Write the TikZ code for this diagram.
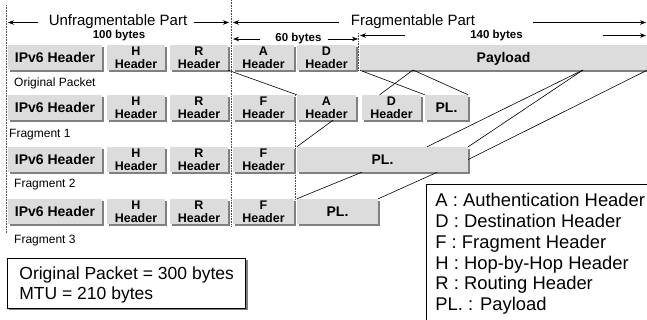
\documentclass[tikz,border=0pt]{standalone}
\usepackage{fontspec}
\setmainfont{Liberation Sans}
\usetikzlibrary{shadows,arrows.meta,calc}
\definecolor{boxcolor}{RGB}{220,220,220}
\definecolor{shadowcolor}{RGB}{128,128,128}

\begin{document}
\begin{tikzpicture}[
        x=1pt, y=-1pt,
        hdr/.style={rectangle, fill=boxcolor, drop shadow={shadow xshift=2pt, shadow yshift=-2pt, fill=shadowcolor, opacity=1}, minimum height=25pt, inner sep=0pt, align=center, font=\bfseries\fontsize{12.5}{13}\selectfont},
        bighdr/.style={hdr, text depth=0pt, font=\bfseries\fontsize{14}{16}\selectfont},
        lbl/.style={anchor=west, inner sep=0pt, font=\fontsize{12}{14}\selectfont},
        part/.style={anchor=mid, inner sep=0pt, font=\fontsize{15}{17}\selectfont},
        bytes/.style={anchor=mid, inner sep=0pt, font=\bfseries\fontsize{11.5}{13}\selectfont},
        infobox/.style={rectangle, draw, line width=0.8pt, fill=white, align=left},
        dim/.style={-{Stealth[length=6pt, width=4.5pt]}, line width=0.6pt},
        guide/.style={densely dotted, line width=0.6pt, black!70},
        map/.style={line width=0.6pt}
    ]
        \useasboundingbox (0,0) rectangle (647,320);

        % Guide lines
        \draw[guide] (6.5,5) -- (6.5,233);
        \draw[guide] (231,0) -- (231,226);
        \draw[guide] (295.5,95) -- (295.5,226);
        \draw[guide] (358.5,33) -- (358.5,70);

        % Part sizes
        \coordinate (uL) at (8,22.5);
        \coordinate (uR) at (229,22.5);
        \coordinate (fL) at (233,22.5);
        \coordinate (fR) at (646,22.5);
        \coordinate (sL) at (233,39);
        \coordinate (sR) at (358,39);
        \coordinate (pL) at (360,35.5);
        \coordinate (pR) at (646,35.5);
        \node[part] (unf) at (118,22.5) {Unfragmentable Part};
        \node[part] (frg) at (413,22.5) {Fragmentable Part};
        \node[bytes, anchor=base] (b100) at (119,39) {100 bytes};
        \node[bytes] (b60) at (298.5,39) {60 bytes};
        \node[bytes] (b140) at (496.5,35.5) {140 bytes};
        \draw[dim] ([xshift=-11pt]unf.mid west) -- (uL);
        \draw[dim] ([xshift=7pt]unf.mid east) -- (uR);
        \draw[dim] ([xshift=-12pt]frg.mid west) -- (fL);
        \draw[dim] ([xshift=58pt]frg.mid east) -- (fR);
        \draw[dim] ([xshift=-15pt]b60.mid west) -- (sL);
        \draw[dim] ([xshift=6pt]b60.mid east) -- (sR);
        \draw[dim] ([xshift=-65pt]b140.mid west) -- (pL);
        \draw[dim] ([xshift=80pt]b140.mid east) -- (pR);

        % Common headers
        \foreach \r/\y in {o/57.5, f1/107.5, f2/159.5, f3/211.5} {
            \node[bighdr, minimum width=94pt] (\r_ip) at (55,\y) {IPv6 Header};
            \node[hdr, minimum width=58pt] (\r_h) at (136,\y) {H\\Header};
            \node[hdr, minimum width=58pt] (\r_r) at (199,\y) {R\\Header};
        }

        % Original Packet
        \node[hdr, minimum width=61pt] (o_a) at (263.5,57.5) {A\\Header};
        \node[hdr, minimum width=59pt] (o_d) at (326.5,57.5) {D\\Header};
        \node[bighdr, minimum width=287pt] (o_pl) at (503.5,57.5) {Payload};
        \node[lbl] (o_lbl) at (14,83.5) {Original Packet};

        % Fragment 1
        \node[hdr, minimum width=61pt] (f1_f) at (263.5,107.5) {F\\Header};
        \node[hdr, minimum width=59pt] (f1_a) at (326.5,107.5) {A\\Header};
        \node[hdr, minimum width=59pt] (f1_d) at (391.5,107.5) {D\\Header};
        \node[bighdr, minimum width=43pt] (f1_pl) at (446.5,107.5) {PL.};
        \node[lbl] (f1_lbl) at (9,135) {Fragment 1};

        % Fragment 2
        \node[hdr, minimum width=61pt] (f2_f) at (263.5,159.5) {F\\Header};
        \node[bighdr, minimum width=171pt] (f2_pl) at (382.5,159.5) {PL.};
        \node[lbl] (f2_lbl) at (14,185) {Fragment 2};

        % Fragment 3
        \node[hdr, minimum width=61pt] (f3_f) at (263.5,211.5) {F\\Header};
        \node[bighdr, minimum width=81pt] (f3_pl) at (337.5,211.5) {PL.};
        \node[lbl] (f3_lbl) at (14,240.5) {Fragment 3};

        % Where the payload is cut
        \coordinate (cut1) at (413,70);
        \coordinate (cut2) at (583,70);

        % Mapping lines
        \draw[map] (o_r.south east) -- (f1_a.north west);
        \draw[map] (o_pl.south west) -- (f1_pl.north west);
        \draw[map] (cut1) -- ($(f1_d.north west)!0.3!(f1_d.north east)$);
        \draw[map] (cut1) -- (f1_pl.north east);
        \draw[map] (cut2) -- ($(f2_pl.north west)!0.76!(f2_pl.north east)$);
        \draw[map] (cut2) -- (f2_pl.north east);
        \draw[map] (o_pl.south east) -- (f2_pl.east);
        \draw[map] ($(f1_a.south west)!0.61!(f1_a.south east)$) -- (f2_pl.north west);
        \draw[map] ($(f2_pl.south west)!0.38!(f2_pl.south east)$) -- (f3_pl.north west);
        \draw[map] ($(f2_pl.south west)!0.82!(f2_pl.south east)$) -- (f3_pl.north east);

        % Size box
        \node[infobox, anchor=north west, minimum width=238pt, minimum height=50pt, inner xsep=12pt, text depth=0pt, drop shadow={shadow xshift=2pt, shadow yshift=-2pt, fill=shadowcolor, opacity=1}, font=\fontsize{17.5}{20}\selectfont] (mtu) at (7,258) {Original Packet = 300 bytes\\MTU = 210 bytes};

        % Legend
        \node[infobox, anchor=north west, inner xsep=9pt, inner ysep=9pt, font=\fontsize{18.4}{20.8}\selectfont] (key) at (426,184) {A : Authentication Header\\D : Destination Header\\F : Fragment Header\\H : Hop-by-Hop Header\\R : Routing Header\\PL.\ : Payload};

    \end{tikzpicture}
\end{document}
